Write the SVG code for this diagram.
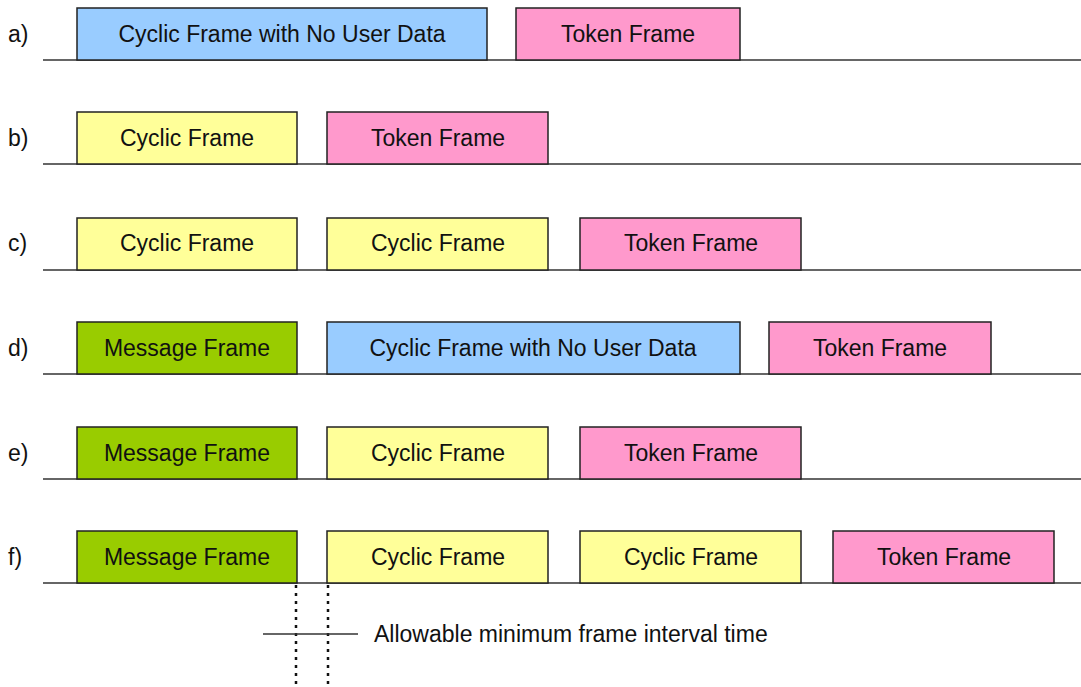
<svg xmlns="http://www.w3.org/2000/svg" width="1081" height="687" viewBox="0 0 1081 687">
<style>
text{font-family:"Liberation Sans",Arial,sans-serif;font-size:23px;fill:#111}
.fr{stroke:#222;stroke-width:1.5}
.t{text-anchor:middle}
.blue{fill:#99CCFF}.pink{fill:#FF99CC}.yel{fill:#FFFF99}.grn{fill:#99CC00}
.base{stroke:#333;stroke-width:1.5;fill:none}
.dot{stroke:#111;stroke-width:2.5;stroke-dasharray:3,5;fill:none}
</style>
<rect width="1081" height="687" fill="#fff"/>
<g id="connectors">
<line class="base" x1="43" y1="60" x2="1081" y2="60"/>
<line class="base" x1="43" y1="164" x2="1081" y2="164"/>
<line class="base" x1="43" y1="270" x2="1081" y2="270"/>
<line class="base" x1="43" y1="374" x2="1081" y2="374"/>
<line class="base" x1="43" y1="479" x2="1081" y2="479"/>
<line class="base" x1="43" y1="583" x2="1081" y2="583"/>
<line class="dot" x1="296" y1="585" x2="296" y2="687"/>
<line class="dot" x1="328" y1="585" x2="328" y2="687"/>
<line class="base" x1="263" y1="634" x2="358" y2="634"/>
</g>
<g id="labels">
<text x="8" y="42">a)</text>
<text x="8" y="146">b)</text>
<text x="8" y="251">c)</text>
<text x="8" y="356">d)</text>
<text x="8" y="461">e)</text>
<text x="8" y="565">f)</text>
<text x="374" y="642">Allowable minimum frame interval time</text>
</g>
<g id="a1"><rect class="fr blue" x="77" y="8" width="410" height="52"/><text class="t" x="282" y="42">Cyclic Frame with No User Data</text></g>
<g id="a2"><rect class="fr pink" x="516" y="8" width="224" height="52"/><text class="t" x="628" y="42">Token Frame</text></g>
<g id="b1"><rect class="fr yel" x="77" y="112" width="220" height="52"/><text class="t" x="187" y="146">Cyclic Frame</text></g>
<g id="b2"><rect class="fr pink" x="327" y="112" width="221" height="52"/><text class="t" x="438" y="146">Token Frame</text></g>
<g id="c1"><rect class="fr yel" x="77" y="218" width="220" height="52"/><text class="t" x="187" y="251">Cyclic Frame</text></g>
<g id="c2"><rect class="fr yel" x="327" y="218" width="221" height="52"/><text class="t" x="438" y="251">Cyclic Frame</text></g>
<g id="c3"><rect class="fr pink" x="580" y="218" width="221" height="52"/><text class="t" x="691" y="251">Token Frame</text></g>
<g id="d1"><rect class="fr grn" x="77" y="322" width="220" height="52"/><text class="t" x="187" y="356">Message Frame</text></g>
<g id="d2"><rect class="fr blue" x="327" y="322" width="413" height="52"/><text class="t" x="533" y="356">Cyclic Frame with No User Data</text></g>
<g id="d3"><rect class="fr pink" x="769" y="322" width="222" height="52"/><text class="t" x="880" y="356">Token Frame</text></g>
<g id="e1"><rect class="fr grn" x="77" y="427" width="220" height="52"/><text class="t" x="187" y="461">Message Frame</text></g>
<g id="e2"><rect class="fr yel" x="327" y="427" width="221" height="52"/><text class="t" x="438" y="461">Cyclic Frame</text></g>
<g id="e3"><rect class="fr pink" x="580" y="427" width="221" height="52"/><text class="t" x="691" y="461">Token Frame</text></g>
<g id="f1"><rect class="fr grn" x="77" y="531" width="220" height="52"/><text class="t" x="187" y="565">Message Frame</text></g>
<g id="f2"><rect class="fr yel" x="327" y="531" width="221" height="52"/><text class="t" x="438" y="565">Cyclic Frame</text></g>
<g id="f3"><rect class="fr yel" x="580" y="531" width="221" height="52"/><text class="t" x="691" y="565">Cyclic Frame</text></g>
<g id="f4"><rect class="fr pink" x="833" y="531" width="221" height="52"/><text class="t" x="944" y="565">Token Frame</text></g>
</svg>
